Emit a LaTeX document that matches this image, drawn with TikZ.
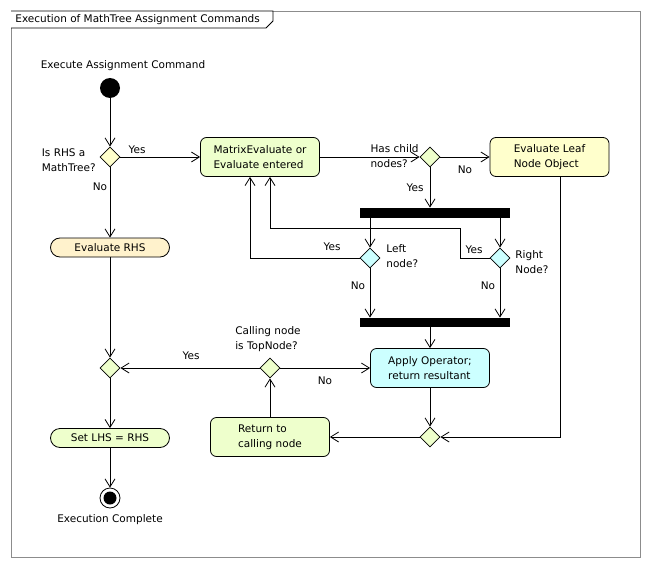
\documentclass[tikz,border=0pt]{standalone}
\usepackage[usenames,dvipsnames]{xcolor}
\usepackage{fontspec}
\setmainfont{DejaVu Sans}
\usepackage{tikz}
\usetikzlibrary{arrows.meta}
\usetikzlibrary{shapes.geometric}

\definecolor{actgreen}{HTML}{EEFFCC}
\definecolor{actyellow}{HTML}{FFFFCC}
\definecolor{actpeach}{HTML}{FFF2CC}
\definecolor{actcyan}{HTML}{CCFFFF}
\definecolor{framegray}{HTML}{8C8C8C}

\begin{document}
\begin{tikzpicture}[x=1pt, y=-1pt, line width=0.8pt, font=\fontsize{10.5}{15}\selectfont,
		act/.style = {draw, rounded corners=6pt, minimum width=119pt, minimum height=39pt, align=left, inner sep=0pt},
		pill/.style = {draw, rounded corners=9.5pt, minimum width=119pt, minimum height=19pt, inner sep=0pt, fill=actgreen},
		choice/.style = {draw, diamond, minimum width=20pt, minimum height=20pt, inner sep=0pt},
		bar/.style = {fill=black, minimum width=150pt, minimum height=10pt, inner sep=0pt},
		flow/.style = {-{Straight Barb[length=8pt,width=10pt]}},
		lbl/.style = {inner sep=0pt, align=left}
	]
		\fill[white] (0,0) rectangle (650,567);
		\useasboundingbox (0,0) rectangle (650,567);
		\draw[framegray] (11,11) rectangle (640,557);
		\draw[fill=white] (11,11) -- (273,11) -- (273,21) -- (266,28) -- (11,28);
		\node[anchor=west, inner sep=0pt] (title) at (15,20) {Execution of MathTree Assignment Commands};

		\node[circle, fill=black, minimum size=20pt, inner sep=0pt] (start) at (110,88) {};
		\node[circle, draw, fill=white, minimum size=20pt, inner sep=0pt] (finish) at (110,498) {};
		\node[circle, fill=black, minimum size=13pt, inner sep=0pt] (finishDot) at (finish) {};

		\foreach \n/\x/\y/\c in {
				isTree/110/157/actyellow,
				hasKids/430/157/actgreen,
				leftKid/370/258/actcyan,
				rightKid/500/258/actcyan,
				isTop/270/368/actgreen,
				joinRHS/110/368/actgreen,
				joinOp/430/437/actgreen}{
		\node[choice, fill=\c] (\n) at (\x,\y) {};
		}

		\node[act, fill=actgreen] (matrix) at (260,157) {MatrixEvaluate or\\Evaluate entered};
		\node[act, fill=actyellow] (leaf) at (549.5,157) {Evaluate Leaf\\Node Object};
		\node[act, fill=actcyan] (apply) at (430,368) {Apply Operator;\\return resultant};
		\node[act, fill=actgreen] (back) at (270,437) {Return to\\calling node};
		\node[pill, fill=actpeach] (evalRHS) at (110,247.5) {Evaluate RHS};
		\node[pill] (setLHS) at (110,438) {Set LHS = RHS};
		\node[bar] (fork) at (435,213) {};
		\node[bar, minimum height=9pt] (join) at (435,322.5) {};
		\coordinate (rightBend) at (460,228);

		\node (startText) at (123,66) {Execute Assignment Command};
		\node (finishText) at (110,520) {Execution Complete};
		\node[lbl, anchor=east] (isTreeText) at (96,160) {Is RHS a\\MathTree?};
		\node[lbl, anchor=east] (hasKidsText) at (419,156) {Has child\\nodes?};
		\node[lbl, anchor=west] (leftKidText) at (386,256) {Left\\node?};
		\node[lbl, anchor=west] (rightKidText) at (515,262) {Right\\Node?};
		\node[lbl] (isTopText) at (268,339) {Calling node\\is TopNode?};

		\foreach \n/\x/\y/\t in {
				yesTree/137/150/Yes,
				noTree/100/187/No,
				noKids/465/170/No,
				yesKids/415/188/Yes,
				yesLeft/332/247/Yes,
				yesRight/474/250/Yes,
				noLeft/358/286/No,
				noRight/488/286/No,
				yesTop/191/356/Yes,
				noTop/325/381/No}{
		\node[inner sep=0pt] (\n) at (\x,\y) {\t};
		}

		\draw[flow] (start) -- (isTree);
		\draw[flow] (isTree) -- (matrix);
		\draw[flow] (isTree) -- (evalRHS);
		\draw[flow] (matrix) -- (hasKids);
		\draw[flow] (hasKids) -- (leaf);
		\draw[flow] (hasKids) -- (hasKids |- fork.north);
		\draw[flow] (fork.south -| leftKid) -- (leftKid);
		\draw[flow] (fork.south -| rightKid) -- (rightKid);
		\draw[flow] (leftKid.west) -| ([xshift=-10pt]matrix.south);
		\draw[flow] (rightKid.west) -| (rightBend) -| ([xshift=10pt]matrix.south);
		\draw[flow] (leftKid) -- (leftKid |- join.north);
		\draw[flow] (rightKid) -- (rightKid |- join.north);
		\draw[flow] (join.south -| apply.north) -- (apply.north);
		\draw[flow] (apply) -- (joinOp);
		\draw[flow] ([xshift=10.5pt]leaf.south) |- (joinOp.east);
		\draw[flow] (joinOp) -- (back);
		\draw[flow] (back) -- (isTop);
		\draw[flow] (isTop) -- (apply);
		\draw[flow] (isTop) -- (joinRHS);
		\draw[flow] (evalRHS) -- (joinRHS);
		\draw[flow] (joinRHS) -- (setLHS);
		\draw[flow] (setLHS) -- (finish);
\end{tikzpicture}
\end{document}
